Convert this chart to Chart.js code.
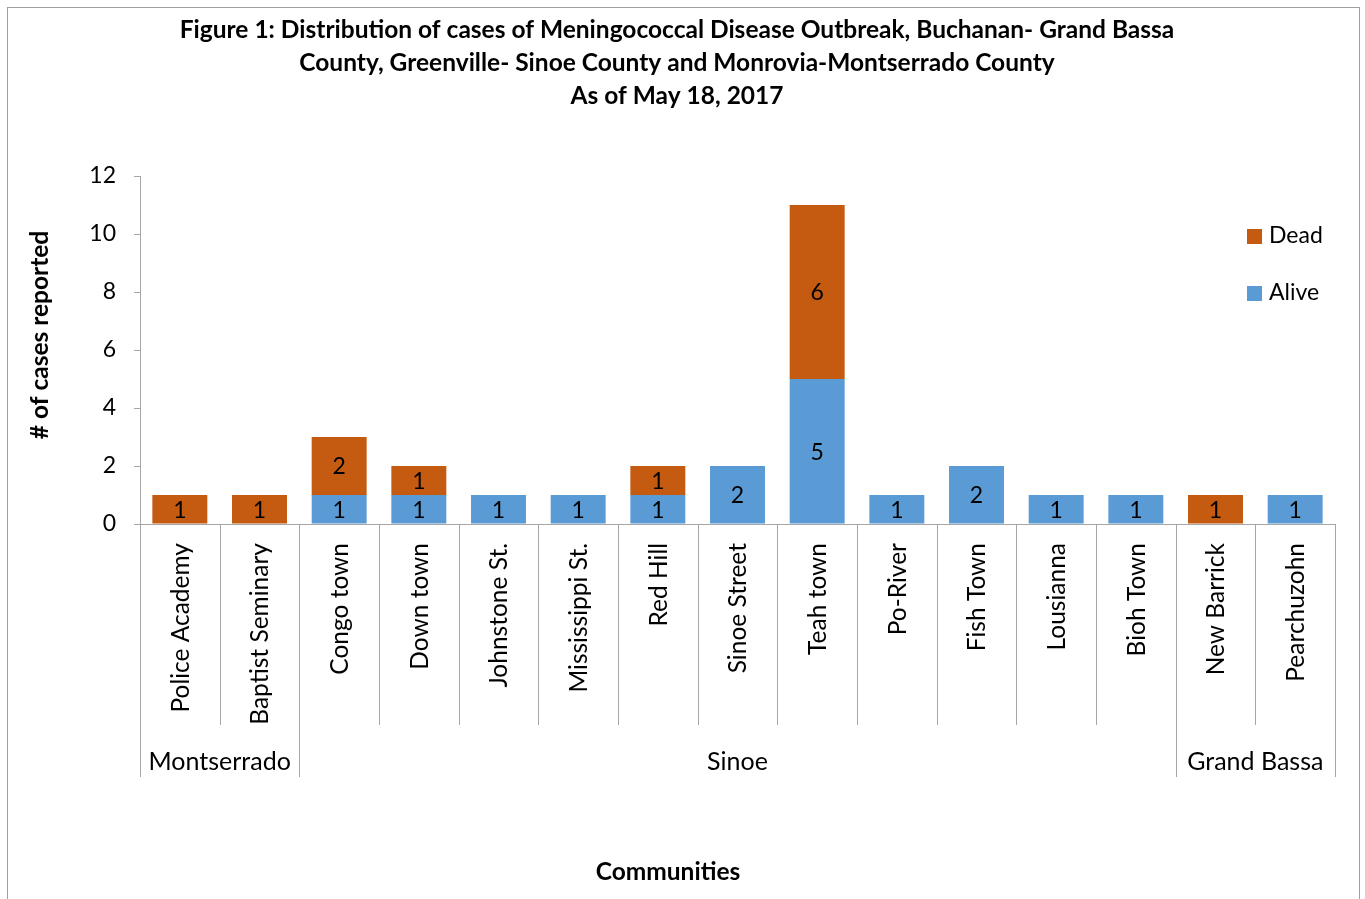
<!DOCTYPE html>
<html>
<head>
<meta charset="utf-8">
<script src="https://cdn.jsdelivr.net/npm/chart.js@4.4.1/dist/chart.umd.min.js"></script>
<style>
  body { margin: 0; background: #fff; }
  canvas { display: block; }
</style>
</head>
<body>
<canvas id="chart" width="1365" height="899"></canvas>
<script>
// Data
const communities = [
  "Police Academy", "Baptist Seminary", "Congo town", "Down town", "Johnstone St.",
  "Mississippi St.", "Red Hill", "Sinoe Street", "Teah town", "Po-River",
  "Fish Town", "Lousianna", "Bioh Town", "New Barrick", "Pearchuzohn"
];
const counties = [
  "Montserrado", "Montserrado", "Sinoe", "Sinoe", "Sinoe",
  "Sinoe", "Sinoe", "Sinoe", "Sinoe", "Sinoe",
  "Sinoe", "Sinoe", "Sinoe", "Grand Bassa", "Grand Bassa"
];
const alive = [0, 0, 1, 1, 1, 1, 1, 2, 5, 1, 2, 1, 1, 0, 1];
const dead = [1, 1, 2, 1, 0, 0, 1, 0, 6, 0, 0, 0, 0, 1, 0];
const yTicks = [0, 2, 4, 6, 8, 10, 12];
const titleLines = [
  "Figure 1: Distribution of cases of Meningococcal Disease Outbreak, Buchanan- Grand Bassa",
  "County, Greenville- Sinoe County and Monrovia-Montserrado County",
  "As of May 18, 2017"
];

const FONT = "Lato, 'Noto Sans', sans-serif";
const AXIS = "#a6a6a6";
const aliveColor = "#5b9bd5";
const deadColor = "#c55a11";

// everything Chart.js does not draw itself: title, labels, legend, grouped axis
const extras = {
  id: "extras",
  afterDraw(chart) {
    const { ctx, chartArea, scales } = chart;
    const x = scales.x;
    ctx.save();

    // outer border
    ctx.strokeStyle = "#a0a0a0";
    ctx.lineWidth = 1;
    ctx.strokeRect(7.5, 7.5, 1352, 1000);

    // title
    ctx.fillStyle = "#000";
    ctx.textAlign = "center";
    ctx.textBaseline = "middle";
    ctx.font = "bold 24.5px " + FONT;
    titleLines.forEach((t, i) => ctx.fillText(t, 677, 30 + i * 33));

    // y axis title
    ctx.font = "bold 24.5px " + FONT;
    ctx.save();
    ctx.translate(40, 335);
    ctx.rotate(-Math.PI / 2);
    ctx.fillText("# of cases reported", 0, 0);
    ctx.restore();

    // x axis title
    ctx.fillText("Communities", 668, 872);

    // value labels in the bar segments
    ctx.font = "23px " + FONT;
    chart.data.datasets.forEach((ds, di) => {
      chart.getDatasetMeta(di).data.forEach((bar, i) => {
        if (!ds.data[i]) return;
        ctx.fillText(ds.data[i], bar.x, (bar.y + bar.base) / 2 + 1);
      });
    });

    // category separators and labels
    const step = (chartArea.right - chartArea.left) / communities.length;
    const bottom = chartArea.bottom;
    ctx.strokeStyle = AXIS;
    for (let i = 0; i <= communities.length; i++) {
      const px = Math.round(chartArea.left + i * step) + 0.5;
      const groupEdge = i === 0 || i === communities.length || counties[i] !== counties[i - 1];
      ctx.beginPath();
      ctx.moveTo(px, bottom);
      ctx.lineTo(px, bottom + (groupEdge ? 253 : 201));
      ctx.stroke();
    }
    ctx.font = "24.5px " + FONT;
    ctx.textAlign = "right";
    communities.forEach((c, i) => {
      ctx.save();
      ctx.translate(x.getPixelForValue(i) + 1, bottom + 19);
      ctx.rotate(-Math.PI / 2);
      ctx.fillText(c, 0, 0);
      ctx.restore();
    });

    // county labels
    ctx.font = "25px " + FONT;
    ctx.textAlign = "center";
    let start = 0;
    for (let i = 1; i <= counties.length; i++) {
      if (i === counties.length || counties[i] !== counties[start]) {
        const cx = chartArea.left + ((start + i) / 2) * step;
        ctx.fillText(counties[start], cx, bottom + 238);
        start = i;
      }
    }

    // legend (Dead above Alive)
    ctx.font = "23px " + FONT;
    ctx.textAlign = "left";
    [[deadColor, "Dead", 236], [aliveColor, "Alive", 293]].forEach(([col, txt, ly]) => {
      ctx.fillStyle = col;
      ctx.fillRect(1247, ly - 7, 15, 15);
      ctx.fillStyle = "#000";
      ctx.fillText(txt, 1269, ly);
    });

    ctx.restore();
  }
};

new Chart(document.getElementById("chart"), {
  type: "bar",
  data: {
    labels: communities,
    datasets: [
      { label: "Alive", data: alive, backgroundColor: aliveColor },
      { label: "Dead", data: dead, backgroundColor: deadColor }
    ]
  },
  options: {
    responsive: false,
    animation: false,
    layout: { padding: { top: 176, right: 30, left: 0, bottom: 0 } },
    datasets: { bar: { categoryPercentage: 1, barPercentage: 0.69 } },
    plugins: { legend: { display: false }, tooltip: { enabled: false } },
    scales: {
      x: {
        stacked: true,
        afterFit: (s) => { s.height = 375; },
        ticks: { display: false },
        grid: { display: false },
        border: { display: true, color: AXIS }
      },
      y: {
        stacked: true,
        min: 0,
        max: 12,
        afterFit: (s) => { s.width = 140; },
        afterBuildTicks: (s) => { s.ticks = yTicks.map((v) => ({ value: v })); },
        ticks: { padding: 18, color: "#000", font: { family: FONT, size: 23 } },
        grid: { drawOnChartArea: false, drawTicks: true, tickLength: 6, color: AXIS },
        border: { display: true, color: AXIS }
      }
    }
  },
  plugins: [extras]
});
</script>
</body>
</html>
